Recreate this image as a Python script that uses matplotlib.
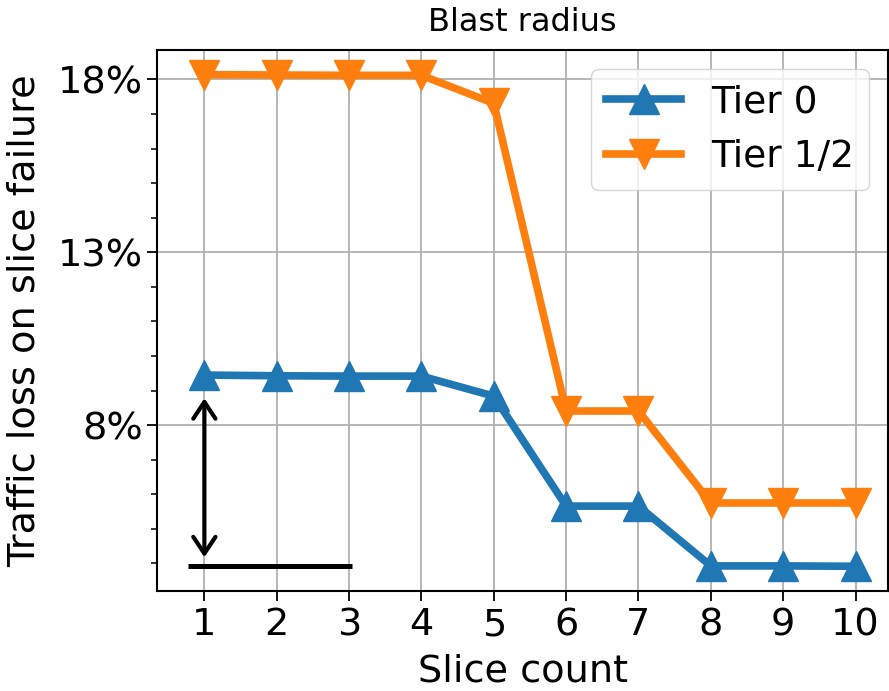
import matplotlib
matplotlib.use("Agg")
import matplotlib.pyplot as plt

slice_count = [1, 2, 3, 4, 5, 6, 7, 8, 9, 10]
tier0 = [9.45, 9.43, 9.42, 9.42, 8.84, 5.66, 5.66, 3.93, 3.93, 3.92]
tier12 = [18.14, 18.13, 18.12, 18.12, 17.31, 8.41, 8.41, 5.75, 5.75, 5.75]
y_ticks = [8, 13, 18]
y_tick_labels = ["8%", "13%", "18%"]

fig = plt.figure(figsize=(8.89, 6.91), dpi=100)
ax = fig.add_axes([0.177, 0.145, 0.822, 0.782])

ax.plot(slice_count, tier0, marker="^", color="#1f77b4", lw=5.5, ms=21, label="Tier 0")
ax.plot(slice_count, tier12, marker="v", color="#ff7f0e", lw=5.5, ms=21, label="Tier 1/2")

# bracket showing the gap at slice count 1
ax.plot([0.77, 3.04], [tier0[-1], tier0[-1]], color="black", lw=3.6, solid_capstyle="butt")
ax.annotate("", xy=(1, 8.78), xytext=(1, 4.18),
            arrowprops=dict(arrowstyle="<->,head_length=0.6,head_width=0.4",
                            color="black", lw=3.0, shrinkA=0, shrinkB=0,
                            mutation_scale=20))

ax.set_xlim(0.35, 10.45)
ax.set_ylim(3.21, 18.84)
ax.set_xticks(slice_count)
ax.set_yticks(y_ticks)
ax.set_yticklabels(y_tick_labels)
ax.set_yticks([4, 5, 6, 7, 9, 10, 11, 12, 14, 15, 16, 17], minor=True)
ax.tick_params(axis="both", which="major", labelsize=27.5, length=7, width=1.3)
ax.tick_params(axis="x", which="major", pad=5)
ax.tick_params(axis="y", which="minor", length=4, width=1.1)
ax.grid(True, which="major", color="#b0b0b0", lw=1.3)
for s in ax.spines.values():
    s.set_linewidth(1.5)

ax.set_xlabel("Slice count", fontsize=27.5, labelpad=7)
ax.set_ylabel("Traffic loss on slice failure", fontsize=27.5, labelpad=11)
ax.set_title("Blast radius", fontsize=23, pad=14)
ax.legend(loc="upper right", fontsize=27)

fig.savefig("out.png", dpi=100)
